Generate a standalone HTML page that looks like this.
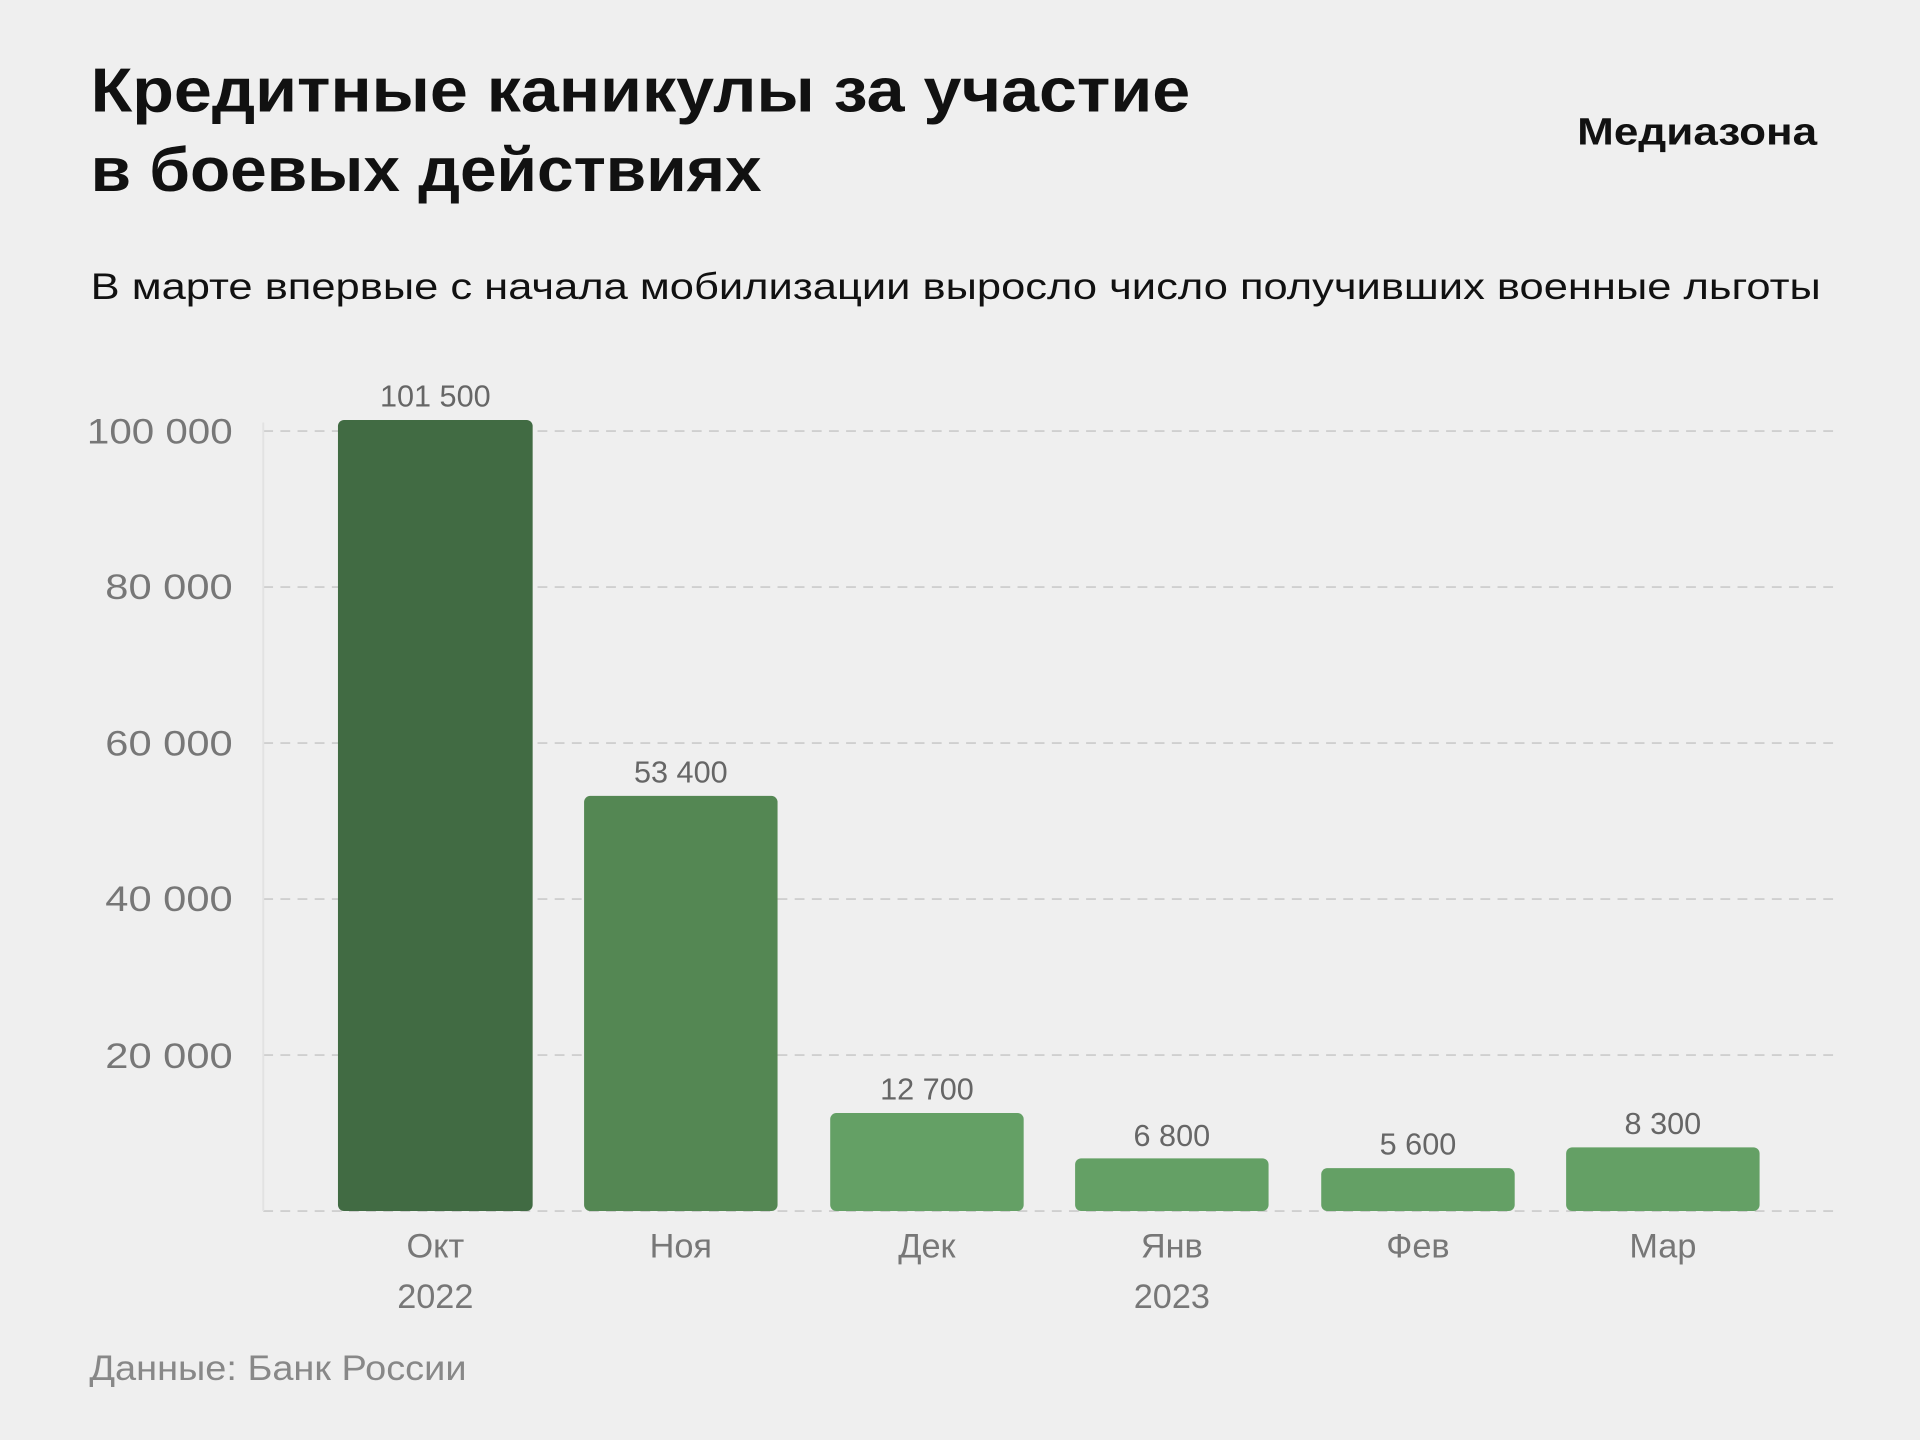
<!DOCTYPE html>
<html><head><meta charset="utf-8"><style>
html,body{margin:0;padding:0;background:#efefef;}
svg{display:block;}
text{font-family:"Liberation Sans","DejaVu Sans",sans-serif;}
</style></head><body>
<svg width="1920" height="1440" viewBox="0 0 1568 1176" xmlns="http://www.w3.org/2000/svg">
<rect width="1568" height="1176" fill="#efefef"/>
<text x="74" y="91" font-size="51" font-weight="bold" fill="#111" textLength="898" lengthAdjust="spacingAndGlyphs">Кредитные каникулы за участие</text>
<text x="74" y="156" font-size="51" font-weight="bold" fill="#111" textLength="548" lengthAdjust="spacingAndGlyphs">в боевых действиях</text>
<text x="1288" y="118" font-size="31" font-weight="bold" fill="#111" textLength="196" lengthAdjust="spacingAndGlyphs">Медиазона</text>
<text x="74" y="244" font-size="30" fill="#111" textLength="1413" lengthAdjust="spacingAndGlyphs">В марте впервые с начала мобилизации выросло число получивших военные льготы</text>
<g stroke="#cfcfcf" stroke-width="1.5" stroke-dasharray="8,6">
<line x1="215" y1="352" x2="1500" y2="352"/>
<line x1="215" y1="479.4" x2="1500" y2="479.4"/>
<line x1="215" y1="606.8" x2="1500" y2="606.8"/>
<line x1="215" y1="734.2" x2="1500" y2="734.2"/>
<line x1="215" y1="861.6" x2="1500" y2="861.6"/>
<line x1="215" y1="989" x2="1500" y2="989"/>
</g>
<line x1="215" y1="345" x2="215" y2="989" stroke="#e2e2e2" stroke-width="1.5"/>
<g font-size="29" fill="#777" text-anchor="end">
<text x="190" y="362" textLength="119" lengthAdjust="spacingAndGlyphs">100 000</text>
<text x="190" y="489" textLength="104" lengthAdjust="spacingAndGlyphs">80 000</text>
<text x="190" y="617" textLength="104" lengthAdjust="spacingAndGlyphs">60 000</text>
<text x="190" y="744" textLength="104" lengthAdjust="spacingAndGlyphs">40 000</text>
<text x="190" y="872" textLength="104" lengthAdjust="spacingAndGlyphs">20 000</text>
</g>
<rect x="276" y="343" width="159" height="646" rx="5" fill="#416b43"/>
<rect x="477" y="650" width="158" height="339" rx="5" fill="#548753"/>
<rect x="678" y="909" width="158" height="80" rx="5" fill="#64a065"/>
<rect x="878" y="946" width="158" height="43" rx="5" fill="#64a065"/>
<rect x="1079" y="954" width="158" height="35" rx="5" fill="#64a065"/>
<rect x="1279" y="937" width="158" height="52" rx="5" fill="#64a065"/>
<g font-size="25" fill="#666" text-anchor="middle">
<text x="355.5" y="332">101 500</text>
<text x="556" y="639">53 400</text>
<text x="757" y="898">12 700</text>
<text x="957" y="936">6 800</text>
<text x="1158" y="943">5 600</text>
<text x="1358" y="926">8 300</text>
</g>
<g font-size="28" fill="#777" text-anchor="middle">
<text x="355.5" y="1027">Окт</text>
<text x="355.5" y="1068">2022</text>
<text x="556" y="1027">Ноя</text>
<text x="757" y="1027">Дек</text>
<text x="957" y="1027">Янв</text>
<text x="957" y="1068">2023</text>
<text x="1158" y="1027">Фев</text>
<text x="1358" y="1027">Мар</text>
</g>
<text x="73" y="1127" font-size="29" fill="#888" textLength="308" lengthAdjust="spacingAndGlyphs">Данные: Банк России</text>
</svg>
</body></html>
